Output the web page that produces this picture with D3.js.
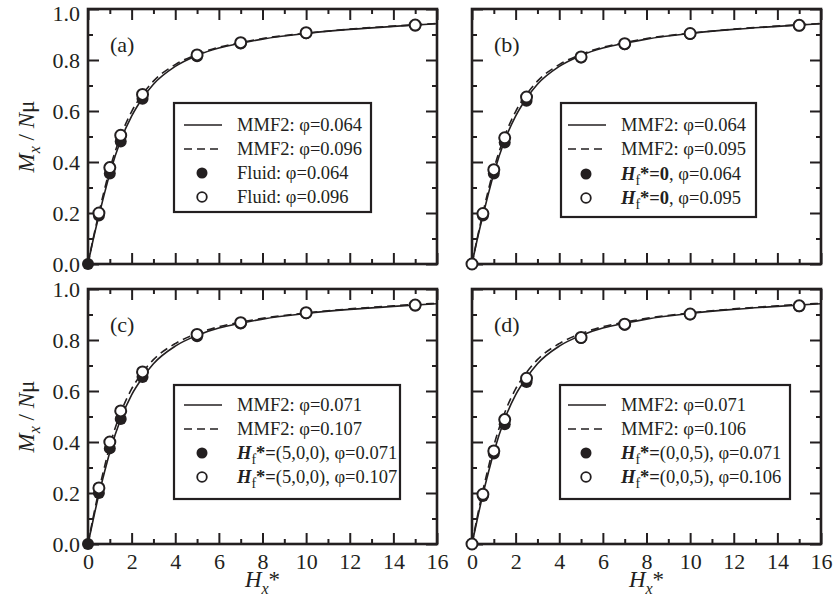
<!DOCTYPE html>
<html>
<head>
<meta charset="utf-8">
<script src="https://cdn.jsdelivr.net/npm/d3@7"></script>
<style>
	body { margin: 0; background: #fff; }
	svg { display: block; }
	text { font-family: "Liberation Serif", "Times New Roman", serif; fill: #231f20; }
</style>
</head>
<body>
<svg></svg>
<script>
const width = 833;
const height = 614;

// measured field values (simulation points)
const hPoints = [0, 0.5, 1, 1.5, 2.5, 5, 7, 10, 15];

const aFilled = [0, 0.19, 0.355, 0.48, 0.648, 0.815, 0.865, 0.905, 0.935];
const aOpen   = [null, 0.2, 0.378, 0.505, 0.665, 0.82, 0.868, 0.907, 0.937];
const bFilled = [0, 0.19, 0.355, 0.476, 0.64, 0.81, 0.862, 0.902, 0.935];
const bOpen   = [0, 0.198, 0.37, 0.495, 0.655, 0.812, 0.864, 0.904, 0.936];
const cFilled = [0, 0.2, 0.375, 0.49, 0.655, 0.815, 0.865, 0.905, 0.935];
const cOpen   = [null, 0.22, 0.4, 0.522, 0.675, 0.822, 0.868, 0.907, 0.937];
const dFilled = [0, 0.188, 0.355, 0.47, 0.635, 0.808, 0.86, 0.9, 0.932];
const dOpen   = [0, 0.195, 0.365, 0.488, 0.65, 0.81, 0.862, 0.902, 0.934];

// MMF2 theory curves
const hCurve = [0, 0.25, 0.5, 0.75, 1, 1.5, 2, 2.5, 3, 4, 5, 6, 7, 8, 10, 12, 14, 16];
const curveLowAB  = [0, 0.1, 0.19, 0.275, 0.355, 0.485, 0.58, 0.65, 0.705, 0.775, 0.818, 0.847, 0.866, 0.882, 0.904, 0.92, 0.932, 0.942];
const curveHighAB = [0, 0.105, 0.2, 0.29, 0.372, 0.502, 0.598, 0.665, 0.717, 0.782, 0.822, 0.85, 0.868, 0.884, 0.905, 0.921, 0.933, 0.943];
const curveLowCD  = [0, 0.1, 0.195, 0.28, 0.36, 0.49, 0.585, 0.652, 0.707, 0.776, 0.818, 0.847, 0.866, 0.882, 0.904, 0.92, 0.932, 0.942];
const curveHighCD = [0, 0.11, 0.21, 0.3, 0.385, 0.515, 0.608, 0.673, 0.723, 0.786, 0.825, 0.852, 0.87, 0.885, 0.906, 0.922, 0.934, 0.944];

const xMajor = [0, 2, 4, 6, 8, 10, 12, 14, 16];
const xMinor = [1, 3, 5, 7, 9, 11, 13, 15];
const yMajor = [0, 0.2, 0.4, 0.6, 0.8, 1.0];
const yMinor = [0.1, 0.3, 0.5, 0.7, 0.9];

const panelTags = ['(a)', '(b)', '(c)', '(d)'];
const phiLow  = ['0.064', '0.064', '0.071', '0.071'];
const phiHigh = ['0.096', '0.095', '0.107', '0.106'];
const fieldTag = [null, '0', '(5,0,0)', '(0,0,5)'];

const panels = [
	{ left: 88, top: 9, filled: aFilled, open: aOpen, low: curveLowAB, high: curveHighAB,
	  box: [86, 94, 197, 109], yLabels: true, xLabels: false },
	{ left: 472, top: 9, filled: bFilled, open: bOpen, low: curveLowAB, high: curveHighAB,
	  box: [89, 94, 195, 114], yLabels: false, xLabels: false },
	{ left: 88, top: 289, filled: cFilled, open: cOpen, low: curveLowCD, high: curveHighCD,
	  box: [86, 96, 226, 114], yLabels: true, xLabels: true },
	{ left: 472, top: 289, filled: dFilled, open: dOpen, low: curveLowCD, high: curveHighCD,
	  box: [88, 96, 230, 114], yLabels: false, xLabels: true }
];
const pw = 349;
const ph = 255;
const ink = '#231f20';

const svg = d3.select('svg')
	.attr('width', width)
	.attr('height', height);

// legend label segments
const legendRows = i => {
	const fluid = fieldTag[i] === null;
	const fieldSeg = phi => fluid
		? [{ t: `Fluid: φ=${phi}` }]
		: [
			{ t: 'H', bold: true, italic: true },
			{ t: 'f', sub: true },
			{ t: '*=', bold: true, up: true },
			{ t: fieldTag[i], bold: fieldTag[i] === '0' },
			{ t: `, φ=${phi}` }
		];
	return [
		{ kind: 'solid', segs: [{ t: `MMF2: φ=${phiLow[i]}` }] },
		{ kind: 'dashed', segs: [{ t: `MMF2: φ=${phiHigh[i]}` }] },
		{ kind: 'filled', segs: fieldSeg(phiLow[i]) },
		{ kind: 'open', segs: fieldSeg(phiHigh[i]) }
	];
};

panels.forEach((p, i) => {
	const x = d3.scaleLinear().domain([0, 16]).range([0, pw]);
	const y = d3.scaleLinear().domain([0, 1]).range([ph, 0]);
	const g = svg.append('g').attr('transform', `translate(${p.left}, ${p.top})`);

	// axes: inward ticks on all four sides
	const addAxis = (ax, values, size, fmt, transform, pad) => {
		ax.tickValues(values).tickSizeInner(size).tickSizeOuter(0).tickPadding(pad || 8);
		ax.tickFormat(fmt ? d3.format(fmt) : '');
		const ag = g.append('g').attr('transform', transform || null).call(ax);
		ag.select('.domain').remove();
		ag.selectAll('.tick line').attr('stroke', ink).attr('stroke-width', 2);
		ag.selectAll('.tick text').style('font-size', '22px').attr('fill', ink);
		return ag;
	};
	addAxis(d3.axisBottom(x), xMajor, -11, p.xLabels ? 'd' : null, `translate(0, ${ph})`, 9);
	addAxis(d3.axisBottom(x), xMinor, -5, null, `translate(0, ${ph})`);
	addAxis(d3.axisTop(x), xMajor, -11, null);
	addAxis(d3.axisTop(x), xMinor, -5, null);
	const lx = addAxis(d3.axisLeft(y), yMajor, -11, p.yLabels ? '.1f' : null);
	// keep the top label inside the page
	lx.selectAll('.tick text').filter(d => d === 1 && p.top < 20).attr('dy', '0.5em');
	addAxis(d3.axisLeft(y), yMinor, -5, null);
	addAxis(d3.axisRight(y), yMajor, -11, null, `translate(${pw}, 0)`);
	addAxis(d3.axisRight(y), yMinor, -5, null, `translate(${pw}, 0)`);

	g.append('rect')
		.attr('width', pw).attr('height', ph)
		.attr('fill', 'none').attr('stroke', ink).attr('stroke-width', 2.6);

	// theory curves
	const line = d3.line()
		.x((d, j) => x(hCurve[j]))
		.y(d => y(d))
		.curve(d3.curveMonotoneX);
	g.append('path').datum(p.low).attr('d', line)
		.attr('fill', 'none').attr('stroke', ink).attr('stroke-width', 1.6);
	g.append('path').datum(p.high).attr('d', line)
		.attr('fill', 'none').attr('stroke', ink).attr('stroke-width', 1.6)
		.attr('stroke-dasharray', '8,5');

	// simulation points
	const pts = arr => hPoints.map((h, j) => ({ h, v: arr[j] })).filter(d => d.v !== null);
	g.selectAll('.filled').data(pts(p.filled)).enter().append('circle')
		.attr('cx', d => x(d.h)).attr('cy', d => y(d.v)).attr('r', 6)
		.attr('fill', ink);
	g.selectAll('.open').data(pts(p.open)).enter().append('circle')
		.attr('cx', d => x(d.h)).attr('cy', d => y(d.v)).attr('r', 5.5)
		.attr('fill', '#fff').attr('stroke', ink).attr('stroke-width', 2);

	g.append('text')
		.attr('x', 22).attr('y', 43)
		.style('font-size', '22px')
		.text(panelTags[i]);

	// legend
	const [bxl, byt, bw, bh] = p.box;
	g.append('rect')
		.attr('x', bxl).attr('y', byt).attr('width', bw).attr('height', bh)
		.attr('fill', '#fff').attr('stroke', ink).attr('stroke-width', 2.2);
	legendRows(i).forEach((row, r) => {
		const cy = 116 + r * 24 + (i === 1 && r > 1 ? 1 : 0);
		if (row.kind === 'solid' || row.kind === 'dashed') {
			g.append('line')
				.attr('x1', 96).attr('x2', 134).attr('y1', cy).attr('y2', cy)
				.attr('stroke', ink).attr('stroke-width', 1.6)
				.attr('stroke-dasharray', row.kind === 'dashed' ? '8,5' : null);
		} else {
			g.append('circle')
				.attr('cx', 114).attr('cy', cy)
				.attr('r', row.kind === 'filled' ? 5.5 : 4.8)
				.attr('fill', row.kind === 'filled' ? ink : '#fff')
				.attr('stroke', ink).attr('stroke-width', row.kind === 'filled' ? 0 : 1.8);
		}
		const t = g.append('text')
			.attr('x', 149).attr('y', cy + 6)
			.style('font-size', '18.5px');
		row.segs.forEach(s => {
			t.append('tspan')
				.attr('dy', s.sub ? 5 : (s.up ? -5 : null))
				.style('font-size', s.sub ? '14px' : null)
				.style('font-weight', s.bold ? 'bold' : null)
				.style('font-style', s.italic ? 'italic' : null)
				.text(s.t);
		});
	});

	// axis titles
	if (p.yLabels) {
		const yt = svg.append('text')
			.attr('transform', `translate(34, ${p.top + ph / 2}) rotate(-90)`)
			.attr('text-anchor', 'middle')
			.style('font-size', '23px');
		yt.append('tspan').style('font-style', 'italic').text('M');
		yt.append('tspan').style('font-style', 'italic').style('font-size', '16px').attr('dy', 6).text('x');
		yt.append('tspan').attr('dy', -6).text(' / ');
		yt.append('tspan').style('font-style', 'italic').text('N');
		yt.append('tspan').text('μ');
	}
	if (p.xLabels) {
		const xt = svg.append('text')
			.attr('x', p.left + pw / 2).attr('y', 587)
			.attr('text-anchor', 'middle')
			.style('font-size', '23px');
		xt.append('tspan').style('font-style', 'italic').text('H');
		xt.append('tspan').style('font-style', 'italic').style('font-size', '16px').attr('dy', 7).text('x');
		xt.append('tspan').attr('dy', -7).text('*');
	}
});
</script>
</body>
</html>
